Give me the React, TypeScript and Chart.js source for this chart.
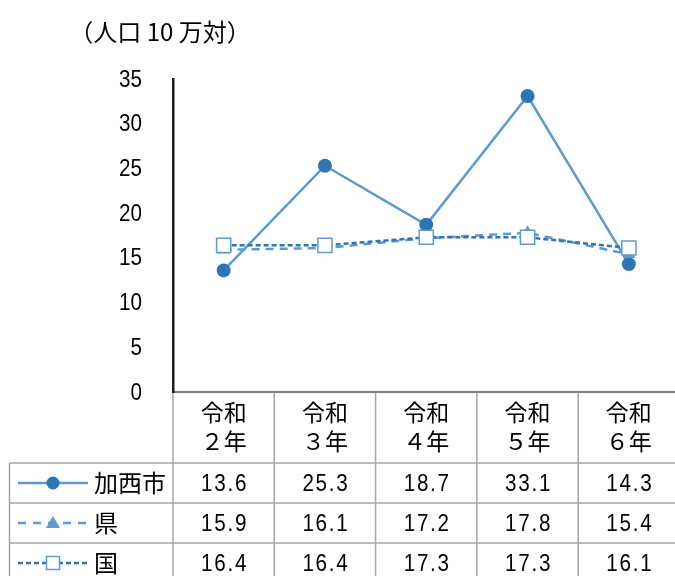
import React, { useEffect, useRef } from "react";
import { Chart, registerables } from "chart.js";

Chart.register(...registerables);

const categories: string[][] = [
  ["令和", "２年"],
  ["令和", "３年"],
  ["令和", "４年"],
  ["令和", "５年"],
  ["令和", "６年"],
];
const seriesNames = ["加西市", "県", "国"];
const kasaiValues = [13.6, 25.3, 18.7, 33.1, 14.3];
const kenValues = [15.9, 16.1, 17.2, 17.8, 15.4];
const kuniValues = [16.4, 16.4, 17.3, 17.3, 16.1];
const tableLabels = [
  ["13.6", "25.3", "18.7", "33.1", "14.3"],
  ["15.9", "16.1", "17.2", "17.8", "15.4"],
  ["16.4", "16.4", "17.3", "17.3", "16.1"],
];
const unitLabel = "（人口 10 万対）";
const yMin = 0;
const yMax = 35;
const yStep = 5;

const CANVAS_W = 720;
const VIEW_W = 675;
const H = 576;

const NUM_FONT = "'Liberation Sans', Arial, sans-serif";
const JP_FONT = "'Noto Sans CJK JP', 'Noto Sans', sans-serif";
const LIGHT = "#5B9BD5";
const DARK = "#2E75B6";
const GRID = "#a6a6a6";
const NARROW = 0.86;

function narrowText(ctx: CanvasRenderingContext2D, text: string, x: number, y: number, align: "left" | "right" | "center") {
  ctx.save();
  ctx.translate(x, y);
  ctx.scale(NARROW, 1);
  ctx.textAlign = align;
  ctx.fillText(text, 0, 0);
  ctx.restore();
}

const tablePlugin = {
  id: "dataTable",
  afterDraw(chart: any) {
    const ctx: CanvasRenderingContext2D = chart.ctx;
    const area = chart.chartArea;
    const xs = chart.scales.x;
    const ys = chart.scales.y;
    const n = categories.length;
    const colW = xs.getPixelForValue(1) - xs.getPixelForValue(0);
    const top = area.bottom;
    const headerBottom = top + 71;
    const rowH = 40;
    const tableLeft = 9.5;
    const W = VIEW_W;
    ctx.save();

    // title
    ctx.fillStyle = "#000";
    ctx.font = `24px ${JP_FONT}`;
    ctx.textAlign = "center";
    ctx.textBaseline = "middle";
    ctx.fillText(unitLabel, 160, 32);

    // y tick labels
    ctx.font = `24px ${NUM_FONT}`;
    ctx.textBaseline = "middle";
    for (const t of ys.ticks) {
      narrowText(ctx, String(t.value), 142, ys.getPixelForValue(t.value) + 1, "right");
    }

    // grid lines
    ctx.strokeStyle = GRID;
    ctx.lineWidth = 1.5;
    ctx.setLineDash([]);
    ctx.beginPath();
    for (let i = 0; i <= n; i++) {
      const x = xs.getPixelForValue(i) - colW / 2;
      ctx.moveTo(x, top + 1);
      ctx.lineTo(x, H);
    }
    ctx.moveTo(tableLeft, headerBottom);
    ctx.lineTo(tableLeft, H);
    for (let r = 0; r <= 3; r++) {
      const y = headerBottom + r * rowH;
      ctx.moveTo(tableLeft, y);
      ctx.lineTo(CANVAS_W, y);
    }
    ctx.stroke();

    // header labels
    ctx.fillStyle = "#000";
    ctx.font = `23px ${JP_FONT}`;
    ctx.textAlign = "center";
    ctx.textBaseline = "middle";
    for (let i = 0; i < n; i++) {
      const cx = xs.getPixelForValue(i);
      ctx.fillText(categories[i][0], cx, top + 20);
      ctx.fillText(categories[i][1], cx, top + 49);
    }

    // values
    ctx.font = `24px ${NUM_FONT}`;
    try { (ctx as any).letterSpacing = "2px"; } catch (e) {}
    for (let r = 0; r < 3; r++) {
      const cy = headerBottom + r * rowH + rowH / 2 + 1;
      for (let i = 0; i < n; i++) {
        narrowText(ctx, tableLabels[r][i], xs.getPixelForValue(i) + 1, cy, "center");
      }
    }
    try { (ctx as any).letterSpacing = "0px"; } catch (e) {}

    // legend keys
    const lx0 = 18, lx1 = 88, mx = 53;
    for (let r = 0; r < 3; r++) {
      const cy = headerBottom + r * rowH + rowH / 2;
      ctx.lineWidth = 2.5;
      if (r === 0) {
        ctx.strokeStyle = LIGHT;
        ctx.setLineDash([]);
      } else if (r === 1) {
        ctx.strokeStyle = LIGHT;
        ctx.setLineDash([8, 7]);
        ctx.lineDashOffset = 0;
      } else {
        ctx.strokeStyle = DARK;
        ctx.setLineDash([5, 3]);
      }
      ctx.beginPath();
      ctx.moveTo(lx0, cy);
      ctx.lineTo(lx1, cy);
      ctx.stroke();
      ctx.setLineDash([]);
      if (r === 0) {
        ctx.fillStyle = DARK;
        ctx.beginPath();
        ctx.arc(mx, cy, 6.5, 0, Math.PI * 2);
        ctx.fill();
      } else if (r === 1) {
        ctx.fillStyle = LIGHT;
        ctx.beginPath();
        ctx.moveTo(mx, cy - 7);
        ctx.lineTo(mx + 7, cy + 5);
        ctx.lineTo(mx - 7, cy + 5);
        ctx.closePath();
        ctx.fill();
      } else {
        ctx.fillStyle = "#fff";
        ctx.strokeStyle = LIGHT;
        ctx.lineWidth = 1.5;
        ctx.fillRect(mx - 6.5, cy - 6.5, 13, 13);
        ctx.strokeRect(mx - 6.5, cy - 6.5, 13, 13);
      }
      ctx.fillStyle = "#000";
      ctx.font = `24px ${JP_FONT}`;
      ctx.textAlign = "left";
      ctx.textBaseline = "middle";
      ctx.fillText(seriesNames[r], 94, cy);
    }
    ctx.restore();
  },
};

export default function App() {
  const canvasRef = useRef<HTMLCanvasElement | null>(null);

  useEffect(() => {
    const canvas = canvasRef.current;
    if (!canvas) return;
    const chart = new Chart(canvas, {
      type: "line",
      data: {
        labels: categories.map((c) => c.join("")),
        datasets: [
          {
            label: seriesNames[0],
            data: kasaiValues,
            borderColor: LIGHT,
            borderWidth: 2.5,
            pointStyle: "circle",
            pointRadius: 7,
            pointBackgroundColor: DARK,
            pointBorderWidth: 0,
            tension: 0,
            order: 2,
          },
          {
            label: seriesNames[1],
            data: kenValues,
            borderColor: LIGHT,
            borderWidth: 2.5,
            borderDash: [8, 6],
            pointStyle: "triangle",
            pointRadius: 7.5,
            pointBackgroundColor: LIGHT,
            pointBorderWidth: 0,
            tension: 0,
            order: 1,
          },
          {
            label: seriesNames[2],
            data: kuniValues,
            borderColor: DARK,
            borderWidth: 2.5,
            borderDash: [5, 3],
            pointStyle: "rect",
            pointRadius: 10,
            pointBackgroundColor: "#ffffff",
            pointBorderColor: LIGHT,
            pointBorderWidth: 1.5,
            tension: 0,
            order: 0,
          },
        ],
      },
      options: {
        animation: false,
        responsive: false,
        maintainAspectRatio: false,
        layout: { padding: { top: 79, right: CANVAS_W - 679.5, bottom: H - 392, left: 0 } },
        plugins: {
          legend: { display: false },
          title: { display: false },
          tooltip: { enabled: false },
        },
        scales: {
          x: {
            type: "category",
            offset: true,
            grid: { display: false, drawTicks: false },
            border: { display: true, color: "#808080", width: 2 },
            ticks: { display: false },
            afterFit: (s: any) => {
              s.height = 0;
            },
          },
          y: {
            min: yMin,
            max: yMax,
            grid: { display: false, drawTicks: false },
            border: { display: true, color: "#1a1a1a", width: 2.5 },
            ticks: { stepSize: yStep, display: false },
            afterFit: (s: any) => {
              s.width = 173;
            },
          },
        },
      },
      plugins: [tablePlugin],
    });
    return () => chart.destroy();
  }, []);

  return (
    <div style={{ position: "absolute", left: 0, top: 0, width: VIEW_W, height: H, overflow: "hidden", background: "#fff" }}>
      <canvas ref={canvasRef} width={CANVAS_W} height={H} style={{ display: "block", width: CANVAS_W, height: H }} />
    </div>
  );
}
